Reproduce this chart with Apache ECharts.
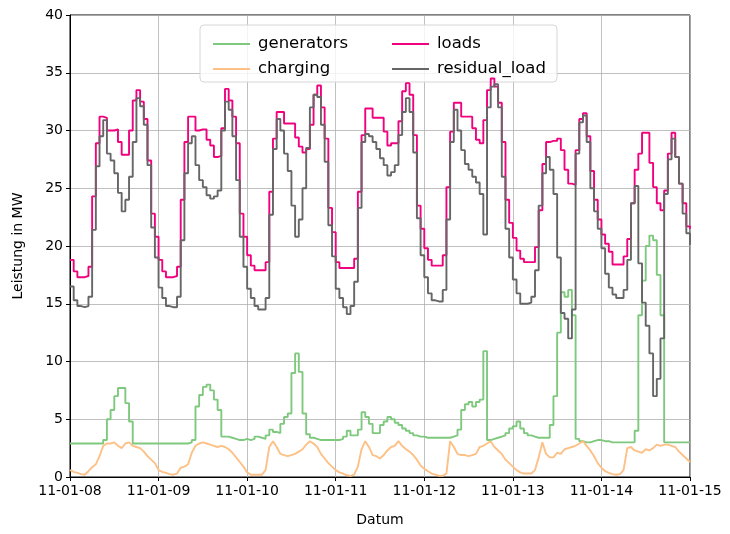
<!DOCTYPE html>
<html>
<head>
<meta charset="utf-8">
<title>Leistung</title>
<script src="https://cdn.jsdelivr.net/npm/echarts@6/dist/echarts.min.js"></script>
<style>
    html, body { margin: 0; background: #fff; }
    #chart { width: 730px; height: 534px; }
</style>
</head>
<body>
<div id="chart"></div>
<script>
    // x tick labels, one per day (24 hourly steps apart)
    var tickLabels = ['11-01-08', '11-01-09', '11-01-10', '11-01-11', '11-01-12', '11-01-13', '11-01-14', '11-01-15'];

    // hourly values in MW, one row per day
    var generators = [
        2.9, 2.9, 2.9, 2.9, 2.9, 2.9, 2.9, 2.9, 2.9, 3.2, 5.0, 5.8, 7.0, 7.7, 7.7, 6.4, 4.8, 2.9, 2.9, 2.9, 2.9, 2.9, 2.9, 2.9,
        2.9, 2.9, 2.9, 2.9, 2.9, 2.9, 2.9, 2.9, 3.0, 3.2, 6.1, 7.1, 7.8, 8.0, 7.5, 6.7, 5.8, 3.5, 3.5, 3.4, 3.3, 3.2, 3.2, 3.3,
        3.2, 3.3, 3.5, 3.4, 3.3, 3.6, 4.1, 3.9, 3.8, 4.6, 5.2, 5.5, 9.0, 10.7, 9.1, 5.5, 3.7, 3.4, 3.3, 3.2, 3.2, 3.2, 3.2, 3.2,
        3.2, 3.3, 3.5, 4.0, 3.6, 3.6, 4.1, 5.6, 5.2, 4.6, 3.8, 3.8, 4.5, 4.8, 5.2, 5.0, 4.7, 4.5, 4.2, 4.0, 3.8, 3.6, 3.5, 3.5,
        3.4, 3.4, 3.4, 3.4, 3.4, 3.4, 3.4, 3.5, 3.6, 4.1, 5.8, 6.3, 6.5, 6.1, 6.5, 6.7, 10.9, 3.2, 3.3, 3.4, 3.5, 3.6, 3.8, 4.2,
        4.4, 4.8, 4.2, 3.8, 3.6, 3.5, 3.4, 3.4, 3.4, 3.4, 4.5, 7.0, 12.5, 16.0, 15.6, 16.2, 14.0, 3.3, 3.1, 3.0, 3.0, 3.1, 3.2, 3.2,
        3.1, 3.1, 3.0, 3.0, 3.0, 3.0, 3.0, 3.0, 3.0, 4.0, 14.0, 17.0, 20.0, 20.9, 20.5, 17.5, 14.0, 3.0, 3.0, 3.0, 3.0, 3.0, 3.0, 3.0,
        3.0
    ];
    var charging = [
        0.6, 0.45, 0.35, 0.25, 0.2, 0.5, 0.85, 1.1, 1.8, 2.7, 2.9, 2.9, 3.0, 2.7, 2.5, 2.9, 3.0, 2.7, 2.6, 2.5, 2.2, 1.8, 1.5, 1.2,
        0.6, 0.45, 0.35, 0.25, 0.2, 0.3, 0.8, 0.9, 1.1, 2.1, 2.7, 2.9, 3.0, 2.9, 2.8, 2.7, 2.6, 2.7, 2.6, 2.4, 2.1, 1.7, 1.3, 0.9,
        0.4, 0.2, 0.2, 0.2, 0.2, 0.6, 2.6, 3.1, 2.6, 2.0, 1.9, 1.8, 1.9, 2.0, 2.2, 2.4, 2.8, 3.1, 2.9, 2.6, 2.0, 1.6, 1.2, 0.9,
        0.6, 0.4, 0.3, 0.15, 0.1, 0.2, 0.9, 2.4, 3.1, 2.6, 1.9, 1.8, 1.6, 1.9, 2.3, 2.6, 2.7, 3.1, 2.7, 2.4, 2.2, 1.9, 1.5, 1.0,
        0.7, 0.5, 0.3, 0.2, 0.1, 0.1, 0.3, 3.1, 2.6, 2.0, 1.9, 1.9, 1.8, 1.9, 2.0, 2.6, 2.7, 2.9, 3.1, 2.6, 2.3, 2.0, 1.5, 1.2,
        0.9, 0.6, 0.4, 0.3, 0.3, 0.3, 0.6, 1.7, 3.0, 2.0, 1.7, 1.7, 2.1, 2.0, 2.4, 2.5, 2.6, 2.7, 2.9, 3.1, 2.7, 2.3, 1.8, 1.2,
        0.8, 0.5, 0.35, 0.25, 0.2, 0.25, 0.6, 2.5, 2.6, 2.3, 2.2, 2.1, 2.4, 2.3, 2.5, 2.8, 2.7, 2.8, 2.8, 2.7, 2.6, 2.2, 1.9, 1.6,
        1.3
    ];
    var loads = [
        18.8, 17.8, 17.3, 17.3, 17.4, 18.2, 24.3, 28.9, 31.2, 31.1, 30.0, 30.0, 30.1, 29.0, 27.9, 27.9, 30.0, 32.6, 33.5, 32.5, 31.0, 27.4, 22.8, 20.8,
        18.8, 17.8, 17.3, 17.3, 17.4, 18.2, 24.0, 29.0, 31.2, 31.2, 30.0, 30.1, 30.1, 29.2, 28.7, 27.7, 27.8, 30.2, 33.6, 32.6, 31.2, 28.9, 22.8, 20.8,
        19.2, 18.3, 17.9, 17.9, 17.9, 18.6, 24.7, 29.3, 31.6, 31.6, 30.6, 30.6, 30.6, 29.4, 28.6, 28.1, 28.4, 30.5, 33.1, 33.9, 32.0, 29.3, 23.3, 21.2,
        18.6, 18.1, 18.1, 18.1, 18.1, 18.9, 24.7, 29.6, 31.9, 31.9, 31.1, 31.1, 31.1, 29.9, 28.7, 28.9, 28.9, 30.8, 33.4, 34.1, 33.1, 29.6, 23.5, 21.5,
        19.8, 18.8, 18.3, 18.3, 18.3, 19.2, 25.1, 29.9, 32.4, 32.4, 31.2, 31.2, 31.2, 30.2, 29.2, 28.9, 30.9, 33.5, 34.5, 33.8, 32.4, 29.0, 24.0, 22.0,
        20.7, 19.6, 18.9, 18.6, 18.6, 18.6, 19.9, 23.1, 27.1, 29.0, 29.1, 29.1, 29.3, 28.3, 26.6, 25.4, 25.3, 28.3, 31.0, 31.5, 29.5, 26.5, 24.0, 22.3,
        21.0, 20.2, 19.5, 18.4, 18.4, 18.4, 19.1, 20.6, 23.7, 26.6, 28.0, 29.8, 29.8, 27.2, 25.1, 23.7, 23.1, 24.8, 28.0, 29.8, 27.7, 25.4, 23.7, 21.7,
        21.5
    ];
    var residualLoad = [
        16.5, 15.3, 14.8, 14.7, 14.8, 15.6, 21.4, 26.9, 29.5, 30.9, 28.0, 27.4, 26.3, 24.6, 23.0, 24.0, 26.0, 29.0, 32.8, 32.1, 30.5, 27.0, 21.6, 19.0,
        16.4, 15.5, 14.8, 14.7, 14.7, 15.6, 20.5, 26.3, 28.9, 29.5, 27.0, 25.7, 25.1, 24.4, 24.1, 24.3, 24.8, 30.0, 32.5, 31.8, 29.5, 25.7, 20.8, 18.2,
        16.3, 15.5, 14.8, 14.5, 14.5, 15.5, 22.7, 28.4, 31.0, 30.0, 28.0, 26.5, 23.5, 20.8, 22.3, 25.0, 28.5, 32.0, 33.1, 32.9, 30.5, 27.3, 21.8, 19.1,
        16.3, 15.5, 14.7, 14.1, 14.8, 16.9, 23.3, 29.0, 29.7, 29.5, 29.0, 28.4, 27.6, 27.0, 26.1, 26.4, 27.0, 29.6, 31.6, 32.8, 31.6, 28.1, 22.4, 19.2,
        17.3, 15.9, 15.3, 15.2, 15.2, 16.2, 22.3, 29.0, 31.8, 30.0, 28.3, 27.1, 26.6, 26.0, 25.5, 24.5, 21.0, 32.0, 33.8, 34.0, 32.0, 26.0, 21.5, 19.0,
        17.1, 15.9, 15.0, 15.0, 15.1, 15.6, 17.9, 23.5, 26.3, 27.7, 26.6, 24.5, 19.0, 14.2, 13.7, 12.0, 14.5, 28.0, 30.7, 31.3, 29.0, 25.0, 23.0, 21.5,
        19.8, 17.6, 16.4, 15.8, 15.5, 15.5, 16.2, 18.8, 23.7, 25.2, 18.5, 15.1, 13.1, 10.7, 7.0, 8.5, 12.0, 24.5, 27.5, 29.3, 27.7, 25.4, 22.8, 21.1,
        20.1
    ];

    var hours = loads.map(function (v, i) { return i; });
    function toPairs(arr) {
        return arr.map(function (v, i) { return [hours[i], v]; });
    }

    var font = 'DejaVu Sans';
    var chart = echarts.init(document.getElementById('chart'));

    var legendText = { fontSize: 16.5, color: '#000', fontFamily: font, lineHeight: 20, padding: [0, 0, 0, 3] };

    var option = {
        animation: false,
        backgroundColor: '#fff',
        grid: {
            left: 70, right: 40, top: 15, bottom: 57,
            show: true, borderColor: '#000', borderWidth: 1, backgroundColor: 'transparent'
        },
        // legend frame
        graphic: [{
            type: 'rect',
            z: 3,
            shape: { x: 200, y: 25, width: 357, height: 57, r: 4 },
            style: { fill: 'rgba(255,255,255,0.8)', stroke: '#d6d6d6', lineWidth: 1 }
        }],
        legend: [
            {
                data: ['generators', 'charging'],
                orient: 'vertical', left: 208, top: 29,
                icon: 'rect', itemWidth: 37, itemHeight: 2, itemGap: 5,
                textStyle: legendText
            },
            {
                data: ['loads', 'residual_load'],
                orient: 'vertical', left: 387, top: 29,
                icon: 'rect', itemWidth: 37, itemHeight: 2, itemGap: 5,
                textStyle: legendText
            }
        ],
        xAxis: {
            type: 'value', min: 0, max: 168, interval: 24,
            name: 'Datum', nameLocation: 'middle', nameGap: 36,
            nameTextStyle: { color: '#000', fontSize: 14, fontFamily: font },
            axisLine: { lineStyle: { color: '#000', width: 1 } },
            axisTick: { length: 4, lineStyle: { color: '#000' } },
            axisLabel: {
                color: '#000', fontSize: 14, fontFamily: font, margin: 7,
                formatter: function (v) { return tickLabels[Math.round(v / 24)]; }
            },
            splitLine: { show: true, lineStyle: { color: '#b0b0b0', width: 0.8 } }
        },
        yAxis: {
            type: 'value', min: 0, max: 40, interval: 5,
            name: 'Leistung in MW', nameLocation: 'middle', nameGap: 45,
            nameTextStyle: { color: '#000', fontSize: 14, fontFamily: font },
            axisLine: { show: true, lineStyle: { color: '#000', width: 1 } },
            axisTick: { show: true, length: 4, lineStyle: { color: '#000' } },
            axisLabel: { color: '#000', fontSize: 14, fontFamily: font, margin: 7 },
            splitLine: { show: true, lineStyle: { color: '#b0b0b0', width: 0.8 } }
        },
        series: [
            {
                name: 'generators', type: 'line', step: 'end', symbol: 'none',
                data: toPairs(generators),
                itemStyle: { color: '#7fc97f' }, lineStyle: { color: '#7fc97f', width: 1.9 }
            },
            {
                name: 'charging', type: 'line', symbol: 'none',
                data: toPairs(charging),
                itemStyle: { color: '#fdc086' }, lineStyle: { color: '#fdc086', width: 1.9 }
            },
            {
                name: 'loads', type: 'line', step: 'end', symbol: 'none',
                data: toPairs(loads),
                itemStyle: { color: '#f0027f' }, lineStyle: { color: '#f0027f', width: 1.9 }
            },
            {
                name: 'residual_load', type: 'line', step: 'end', symbol: 'none',
                data: toPairs(residualLoad),
                itemStyle: { color: '#666666' }, lineStyle: { color: '#666666', width: 1.9 }
            }
        ]
    };
    chart.setOption(option);
</script>
</body>
</html>
